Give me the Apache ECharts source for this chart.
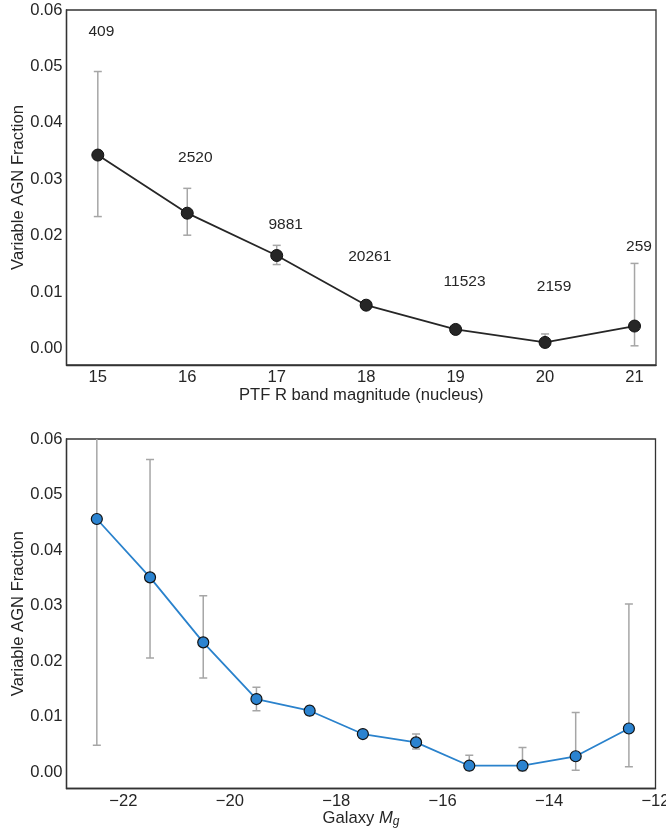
<!DOCTYPE html>
<html><head><meta charset="utf-8">
<script src="https://cdn.jsdelivr.net/npm/echarts@6/dist/echarts.min.js"></script>
<style>html,body{margin:0;padding:0;background:#fff}#c{width:666px;height:829px}</style>
</head><body><div id="c"></div>
<script>
// Top panel: PTF R band magnitude (nucleus)
const magX = [15, 16, 17, 18, 19, 20, 21];
const magY = [0.0343, 0.0240, 0.0165, 0.0077, 0.0034, 0.0011, 0.0040];
const magLo = [0.0234, 0.0201, 0.0149, 0.0070, 0.0030, 0.0003, 0.0005];
const magHi = [0.0491, 0.0284, 0.0183, 0.0085, 0.0038, 0.0026, 0.0151];
const countText = ['409', '2520', '9881', '20261', '11523', '2159', '259'];
const countX = [15.04, 16.09, 17.10, 18.04, 19.10, 20.10, 21.05];
const countY = [0.0561, 0.0339, 0.0220, 0.0162, 0.0119, 0.0110, 0.0180];
const topYTicks = [0, 0.01, 0.02, 0.03, 0.04, 0.05, 0.06];
const topXTicks = [15, 16, 17, 18, 19, 20, 21];

// Bottom panel: Galaxy M_g
const gX = [-22.5, -21.5, -20.5, -19.5, -18.5, -17.5, -16.5, -15.5, -14.5, -13.5, -12.5];
const gY = [0.0456, 0.0351, 0.0234, 0.0132, 0.0111, 0.0069, 0.0054, 0.0012, 0.0012, 0.0029, 0.0079];
const gLo = [0.0049, 0.0206, 0.0170, 0.0111, 0.0103, 0.0063, 0.0042, 0.0004, 0.0003, 0.0004, 0.0010];
const gHi = [0.0700, 0.0563, 0.0318, 0.0153, 0.0119, 0.0075, 0.0069, 0.0031, 0.0045, 0.0108, 0.0303];
const botYTicks = [0, 0.01, 0.02, 0.03, 0.04, 0.05, 0.06];
const botXTicks = [-22, -20, -18, -16, -14, -12];

const FONT = '"Liberation Sans", Arial, sans-serif';
const TXT = '#262626';
const ERR = '#a6a6a6';
const FS = 16.6;

function errSeries(xs, lo, hi, xi, yi) {
  return {
    type: 'custom', xAxisIndex: xi, yAxisIndex: yi, clip: true, z: 1,
    data: xs.map((x, i) => [x, lo[i], hi[i]]),
    renderItem: function (params, api) {
      const x = api.value(0);
      const p1 = api.coord([x, api.value(1)]);
      const p2 = api.coord([x, api.value(2)]);
      const w = 4;
      const st = {stroke: ERR, lineWidth: 1.5};
      return {type: 'group', children: [
        {type: 'line', shape: {x1: p1[0], y1: p1[1], x2: p2[0], y2: p2[1]}, style: st},
        {type: 'line', shape: {x1: p1[0]-w, y1: p1[1], x2: p1[0]+w, y2: p1[1]}, style: st},
        {type: 'line', shape: {x1: p2[0]-w, y1: p2[1], x2: p2[0]+w, y2: p2[1]}, style: st}
      ]};
    }
  };
}

function fmtY(v) { return Math.abs(v) < 1e-9 ? '0.00' : v.toFixed(2); }
function fmtX(v) { return v < 0 ? '\u2212' + Math.abs(v) : String(v); }

const axisLineStyle = {show: true, onZero: false, lineStyle: {color: '#333', width: 1.3}};
const nameStyle = {color: TXT, fontSize: FS, fontFamily: FONT};
const tickLabel = (vals, f) => ({customValues: vals, formatter: f, color: TXT, fontSize: FS, margin: 4, fontFamily: FONT});

const chart = echarts.init(document.getElementById('c'));
chart.setOption({
  backgroundColor: '#fff',
  animation: false,
  textStyle: {fontFamily: FONT},
  grid: [
    {left: 66.5, right: 10, top: 10, height: 355, show: true, borderColor: '#333', borderWidth: 1.3,
     containLabel: false, outerBoundsMode: 'none'},
    {left: 66.5, right: 10.5, top: 439, height: 349.5, show: true, borderColor: '#333', borderWidth: 1.3,
     containLabel: false, outerBoundsMode: 'none'}
  ],
  xAxis: [
    {type: 'value', gridIndex: 0, min: 14.65, max: 21.24,
     axisLine: axisLineStyle, axisTick: {show: false}, splitLine: {show: false},
     axisLabel: tickLabel(topXTicks, fmtX),
     name: 'PTF R band magnitude (nucleus)', nameLocation: 'middle', nameGap: 22, nameMoveOverlap: false,
     nameTextStyle: nameStyle},
    {type: 'value', gridIndex: 1, min: -23.07, max: -12,
     axisLine: axisLineStyle, axisTick: {show: false}, splitLine: {show: false},
     axisLabel: tickLabel(botXTicks, fmtX),
     name: '{n|Galaxy }{m|M}{s|g}', nameLocation: 'middle', nameGap: 21, nameMoveOverlap: false,
     nameTextStyle: {color: TXT, fontSize: FS, fontFamily: FONT,
       rich: {n: {fontSize: FS, color: TXT, fontFamily: FONT},
              m: {fontSize: FS, color: TXT, fontStyle: 'italic', fontFamily: FONT},
              s: {fontSize: 12, color: TXT, fontStyle: 'italic', fontFamily: FONT, padding: [6, 0, 0, 0]}}}}
  ],
  yAxis: [
    {type: 'value', gridIndex: 0, min: -0.0029, max: 0.06,
     axisLine: axisLineStyle, axisTick: {show: false}, splitLine: {show: false},
     axisLabel: tickLabel(topYTicks, fmtY),
     name: 'Variable AGN Fraction', nameLocation: 'middle', nameGap: 40, nameRotate: 90, nameMoveOverlap: false,
     nameTextStyle: nameStyle},
    {type: 'value', gridIndex: 1, min: -0.0029, max: 0.06,
     axisLine: axisLineStyle, axisTick: {show: false}, splitLine: {show: false},
     axisLabel: tickLabel(botYTicks, fmtY),
     name: 'Variable AGN Fraction', nameLocation: 'middle', nameGap: 40, nameRotate: 90, nameMoveOverlap: false,
     nameTextStyle: nameStyle}
  ],
  series: [
    errSeries(magX, magLo, magHi, 0, 0),
    {type: 'line', xAxisIndex: 0, yAxisIndex: 0, z: 3,
     data: magX.map((x, i) => [x, magY[i]]),
     lineStyle: {color: '#262626', width: 1.8},
     symbol: 'circle', symbolSize: 12,
     itemStyle: {color: '#262626', borderColor: '#111', borderWidth: 1}},
    {type: 'scatter', xAxisIndex: 0, yAxisIndex: 0, z: 4, symbolSize: 0,
     itemStyle: {color: 'rgba(0,0,0,0)'},
     data: countX.map((x, i) => [x, countY[i], countText[i]]),
     label: {show: true, position: [0, 0], align: 'center', verticalAlign: 'middle',
             formatter: p => p.value[2], textBorderWidth: 0, opacity: 1,
             color: TXT, fontSize: 15.5, fontFamily: FONT}},
    errSeries(gX, gLo, gHi, 1, 1),
    {type: 'line', xAxisIndex: 1, yAxisIndex: 1, z: 3,
     data: gX.map((x, i) => [x, gY[i]]),
     lineStyle: {color: '#2a82cc', width: 1.8},
     symbol: 'circle', symbolSize: 11,
     itemStyle: {color: '#2b83d0', borderColor: '#111', borderWidth: 1.2}}
  ]
});
</script></body></html>
